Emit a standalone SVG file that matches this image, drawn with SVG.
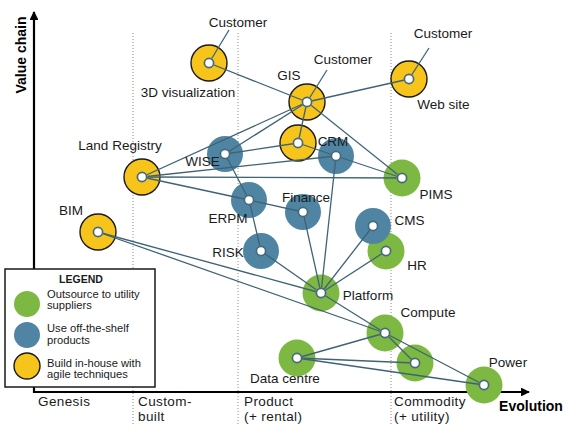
<svg xmlns="http://www.w3.org/2000/svg" width="580" height="434" viewBox="0 0 580 434">
<style>
text{font-family:"Liberation Sans",Arial,sans-serif;fill:#1a1a1a}
.lbl{font-size:13.5px}
.ax{font-size:13.5px;letter-spacing:0.4px}
.axt{font-size:14px;font-weight:bold;fill:#000}
.leg{font-size:11.2px}
.y{fill:#F7C41B;stroke:#1a1a1a;stroke-width:1.4}
.b{fill:#4F85A3;filter:url(#soft)}
.g{fill:#7DB843;filter:url(#soft)}
.hub{fill:#fff;stroke:#46697B;stroke-width:1.7}
.dot{stroke:#8a8a8a;stroke-width:1;stroke-dasharray:1 2;fill:none}
.axis{stroke:#000;stroke-width:2.2;fill:none}
#connectors line{stroke:#3E6376;stroke-width:1.3}
</style>
<defs>
<filter id="soft" x="-20%" y="-20%" width="140%" height="140%"><feGaussianBlur stdDeviation="0.6"/></filter>
<marker id="arr" viewBox="0 0 10 10" refX="9" refY="5" markerWidth="4" markerHeight="4" markerUnits="strokeWidth" orient="auto"><path d="M0,0 L10,5 L0,10 z" fill="#000"/></marker>
<mask id="hubmask" maskUnits="userSpaceOnUse" x="0" y="0" width="580" height="434">
<rect x="0" y="0" width="580" height="434" fill="#fff"/>
<g fill="#000">
<circle cx="209" cy="63" r="5.4"/><circle cx="307" cy="102" r="5.4"/><circle cx="409" cy="79" r="5.4"/>
<circle cx="298" cy="143" r="5.4"/><circle cx="336" cy="156" r="5.4"/><circle cx="142" cy="177" r="5.4"/>
<circle cx="225" cy="154" r="5.4"/><circle cx="402" cy="178" r="5.4"/><circle cx="249" cy="200" r="5.4"/>
<circle cx="303" cy="212" r="5.4"/><circle cx="98" cy="232" r="5.4"/><circle cx="261" cy="251" r="5.4"/>
<circle cx="373" cy="226" r="5.4"/><circle cx="386" cy="251" r="5.4"/><circle cx="321" cy="293" r="5.4"/>
<circle cx="385" cy="333" r="5.4"/><circle cx="297" cy="358" r="5.4"/><circle cx="415" cy="363" r="5.4"/>
<circle cx="484" cy="385" r="5.4"/>
</g>
</mask>
</defs>
<rect width="580" height="434" fill="#fff"/>

<g id="grid">
<line class="dot" x1="133" y1="33" x2="133" y2="424"/>
<line class="dot" x1="238" y1="33" x2="238" y2="424"/>
<line class="dot" x1="391" y1="33" x2="391" y2="424"/>
</g>

<g id="axes">
<line class="axis" x1="34" y1="393" x2="34" y2="12" marker-end="url(#arr)"/>
<line class="axis" x1="33" y1="392" x2="529" y2="392" marker-end="url(#arr)"/>
<text class="axt" transform="translate(26,55) rotate(-90)" text-anchor="middle">Value chain</text>
<text class="axt" x="531" y="411" text-anchor="middle">Evolution</text>
<text class="ax" x="38" y="406">Genesis</text>
<text class="ax" x="138" y="406">Custom-</text>
<text class="ax" x="138" y="421">built</text>
<text class="ax" x="244" y="406">Product</text>
<text class="ax" x="244" y="421">(+ rental)</text>
<text class="ax" x="394" y="406">Commodity</text>
<text class="ax" x="394" y="421">(+ utility)</text>
</g>

<g id="node-viz3d"><circle class="y" cx="209" cy="63" r="18"/><circle class="hub" cx="209" cy="63" r="4.6"/><text class="lbl" x="188" y="97" text-anchor="middle">3D visualization</text><text class="lbl" x="238" y="27" text-anchor="middle">Customer</text></g>
<g id="node-gis"><circle class="y" cx="307" cy="102" r="18"/><circle class="hub" cx="307" cy="102" r="4.6"/><text class="lbl" x="289" y="80" text-anchor="middle">GIS</text><text class="lbl" x="343" y="64" text-anchor="middle">Customer</text></g>
<g id="node-website"><circle class="y" cx="409" cy="79" r="18"/><circle class="hub" cx="409" cy="79" r="4.6"/><text class="lbl" x="443.5" y="109" text-anchor="middle">Web site</text><text class="lbl" x="443" y="38" text-anchor="middle">Customer</text></g>
<g id="node-crm"><circle class="b" cx="336" cy="156" r="18"/><circle class="hub" cx="336" cy="156" r="4.6"/></g>
<g id="node-crm-inhouse"><circle class="y" cx="298" cy="143" r="18"/><circle class="hub" cx="298" cy="143" r="4.6"/></g>
<g id="node-landregistry"><circle class="y" cx="142" cy="177" r="18"/><circle class="hub" cx="142" cy="177" r="4.6"/><text class="lbl" x="120" y="150" text-anchor="middle">Land Registry</text></g>
<g id="node-wise"><circle class="b" cx="225" cy="154" r="18"/><circle class="hub" cx="225" cy="154" r="4.6"/></g>
<g id="node-pims"><circle class="g" cx="402" cy="178" r="18.5"/><circle class="hub" cx="402" cy="178" r="4.6"/><text class="lbl" x="436" y="199" text-anchor="middle">PIMS</text></g>
<g id="node-erpm"><circle class="b" cx="249" cy="200" r="18"/><circle class="hub" cx="249" cy="200" r="4.6"/><text class="lbl" x="228" y="223" text-anchor="middle">ERPM</text></g>
<g id="node-finance"><circle class="b" cx="303" cy="212" r="18"/><circle class="hub" cx="303" cy="212" r="4.6"/><text class="lbl" x="306" y="202" text-anchor="middle">Finance</text></g>
<g id="node-bim"><circle class="y" cx="98" cy="232" r="18"/><circle class="hub" cx="98" cy="232" r="4.6"/><text class="lbl" x="71" y="215" text-anchor="middle">BIM</text></g>
<g id="node-risk"><circle class="b" cx="261" cy="251" r="18"/><circle class="hub" cx="261" cy="251" r="4.6"/><text class="lbl" x="228" y="257" text-anchor="middle">RISK</text></g>
<g id="node-hr"><circle class="g" cx="386" cy="251" r="18.5"/><circle class="hub" cx="386" cy="251" r="4.6"/><text class="lbl" x="417" y="270" text-anchor="middle">HR</text></g>
<g id="node-cms"><circle class="b" cx="373" cy="226" r="18"/><circle class="hub" cx="373" cy="226" r="4.6"/><text class="lbl" x="409.5" y="225" text-anchor="middle">CMS</text></g>
<g id="node-platform"><circle class="g" cx="321" cy="293" r="18.5"/><circle class="hub" cx="321" cy="293" r="4.6"/><text class="lbl" x="368" y="300" text-anchor="middle">Platform</text></g>
<g id="node-compute"><circle class="g" cx="385" cy="333" r="18.5"/><circle class="hub" cx="385" cy="333" r="4.6"/><text class="lbl" x="428" y="317" text-anchor="middle">Compute</text></g>
<g id="node-datacentre"><circle class="g" cx="297" cy="358" r="18.5"/><circle class="hub" cx="297" cy="358" r="4.6"/><text class="lbl" x="285" y="383" text-anchor="middle">Data centre</text></g>
<g id="node-utility"><circle class="g" cx="415" cy="363" r="18.5"/><circle class="hub" cx="415" cy="363" r="4.6"/></g>
<g id="node-power"><circle class="g" cx="484" cy="385" r="18.5"/><circle class="hub" cx="484" cy="385" r="4.6"/><text class="lbl" x="508" y="367" text-anchor="middle">Power</text></g>

<g id="connectors" mask="url(#hubmask)">
<line x1="209" y1="63" x2="229" y2="30"/>
<line x1="307" y1="102" x2="327" y2="70"/>
<line x1="409" y1="79" x2="429" y2="48"/>
<line x1="209" y1="63" x2="307" y2="102"/>
<line x1="307" y1="102" x2="409" y2="79"/>
<line x1="307" y1="102" x2="402" y2="178"/>
<line x1="307" y1="102" x2="298" y2="143"/>
<line x1="307" y1="102" x2="225" y2="154"/>
<line x1="307" y1="102" x2="142" y2="177"/>
<line x1="298" y1="143" x2="336" y2="156"/>
<line x1="336" y1="156" x2="402" y2="178"/>
<line x1="225" y1="154" x2="298" y2="143"/>
<line x1="142" y1="177" x2="336" y2="156"/>
<line x1="142" y1="177" x2="402" y2="178"/>
<line x1="142" y1="177" x2="249" y2="200"/>
<line x1="225" y1="154" x2="249" y2="200"/>
<line x1="249" y1="200" x2="303" y2="212"/>
<line x1="249" y1="200" x2="261" y2="251"/>
<line x1="261" y1="251" x2="321" y2="293"/>
<line x1="303" y1="212" x2="321" y2="293"/>
<line x1="336" y1="156" x2="321" y2="293"/>
<line x1="373" y1="226" x2="321" y2="293"/>
<line x1="386" y1="251" x2="321" y2="293"/>
<line x1="98" y1="232" x2="321" y2="293"/>
<line x1="98" y1="232" x2="385" y2="333"/>
<line x1="321" y1="293" x2="385" y2="333"/>
<line x1="385" y1="333" x2="297" y2="358"/>
<line x1="385" y1="333" x2="415" y2="363"/>
<line x1="385" y1="333" x2="484" y2="385"/>
<line x1="297" y1="358" x2="415" y2="363"/>
<line x1="297" y1="358" x2="484" y2="385"/>
</g>

<g id="labels-over">
<text class="lbl" x="202.5" y="166" text-anchor="middle">WISE</text>
<text class="lbl" x="333" y="146" text-anchor="middle">CRM</text>
</g>

<g id="legend">
<rect x="5" y="269" width="150" height="118" fill="#fff" stroke="#1a1a1a" stroke-width="1.5"/>
<text x="81" y="283" text-anchor="middle" style="font-size:10.5px;font-weight:bold">LEGEND</text>
<circle class="g" cx="27" cy="304" r="13"/>
<circle class="b" cx="27" cy="335" r="13"/>
<circle class="y" cx="27" cy="366" r="13"/>
<text class="leg" x="47" y="298">Outsource to utility</text>
<text class="leg" x="47" y="309">suppliers</text>
<text class="leg" x="47" y="332">Use off-the-shelf</text>
<text class="leg" x="47" y="344">products</text>
<text class="leg" x="47" y="367">Build in-house with</text>
<text class="leg" x="47" y="378">agile techniques</text>
</g>
</svg>
